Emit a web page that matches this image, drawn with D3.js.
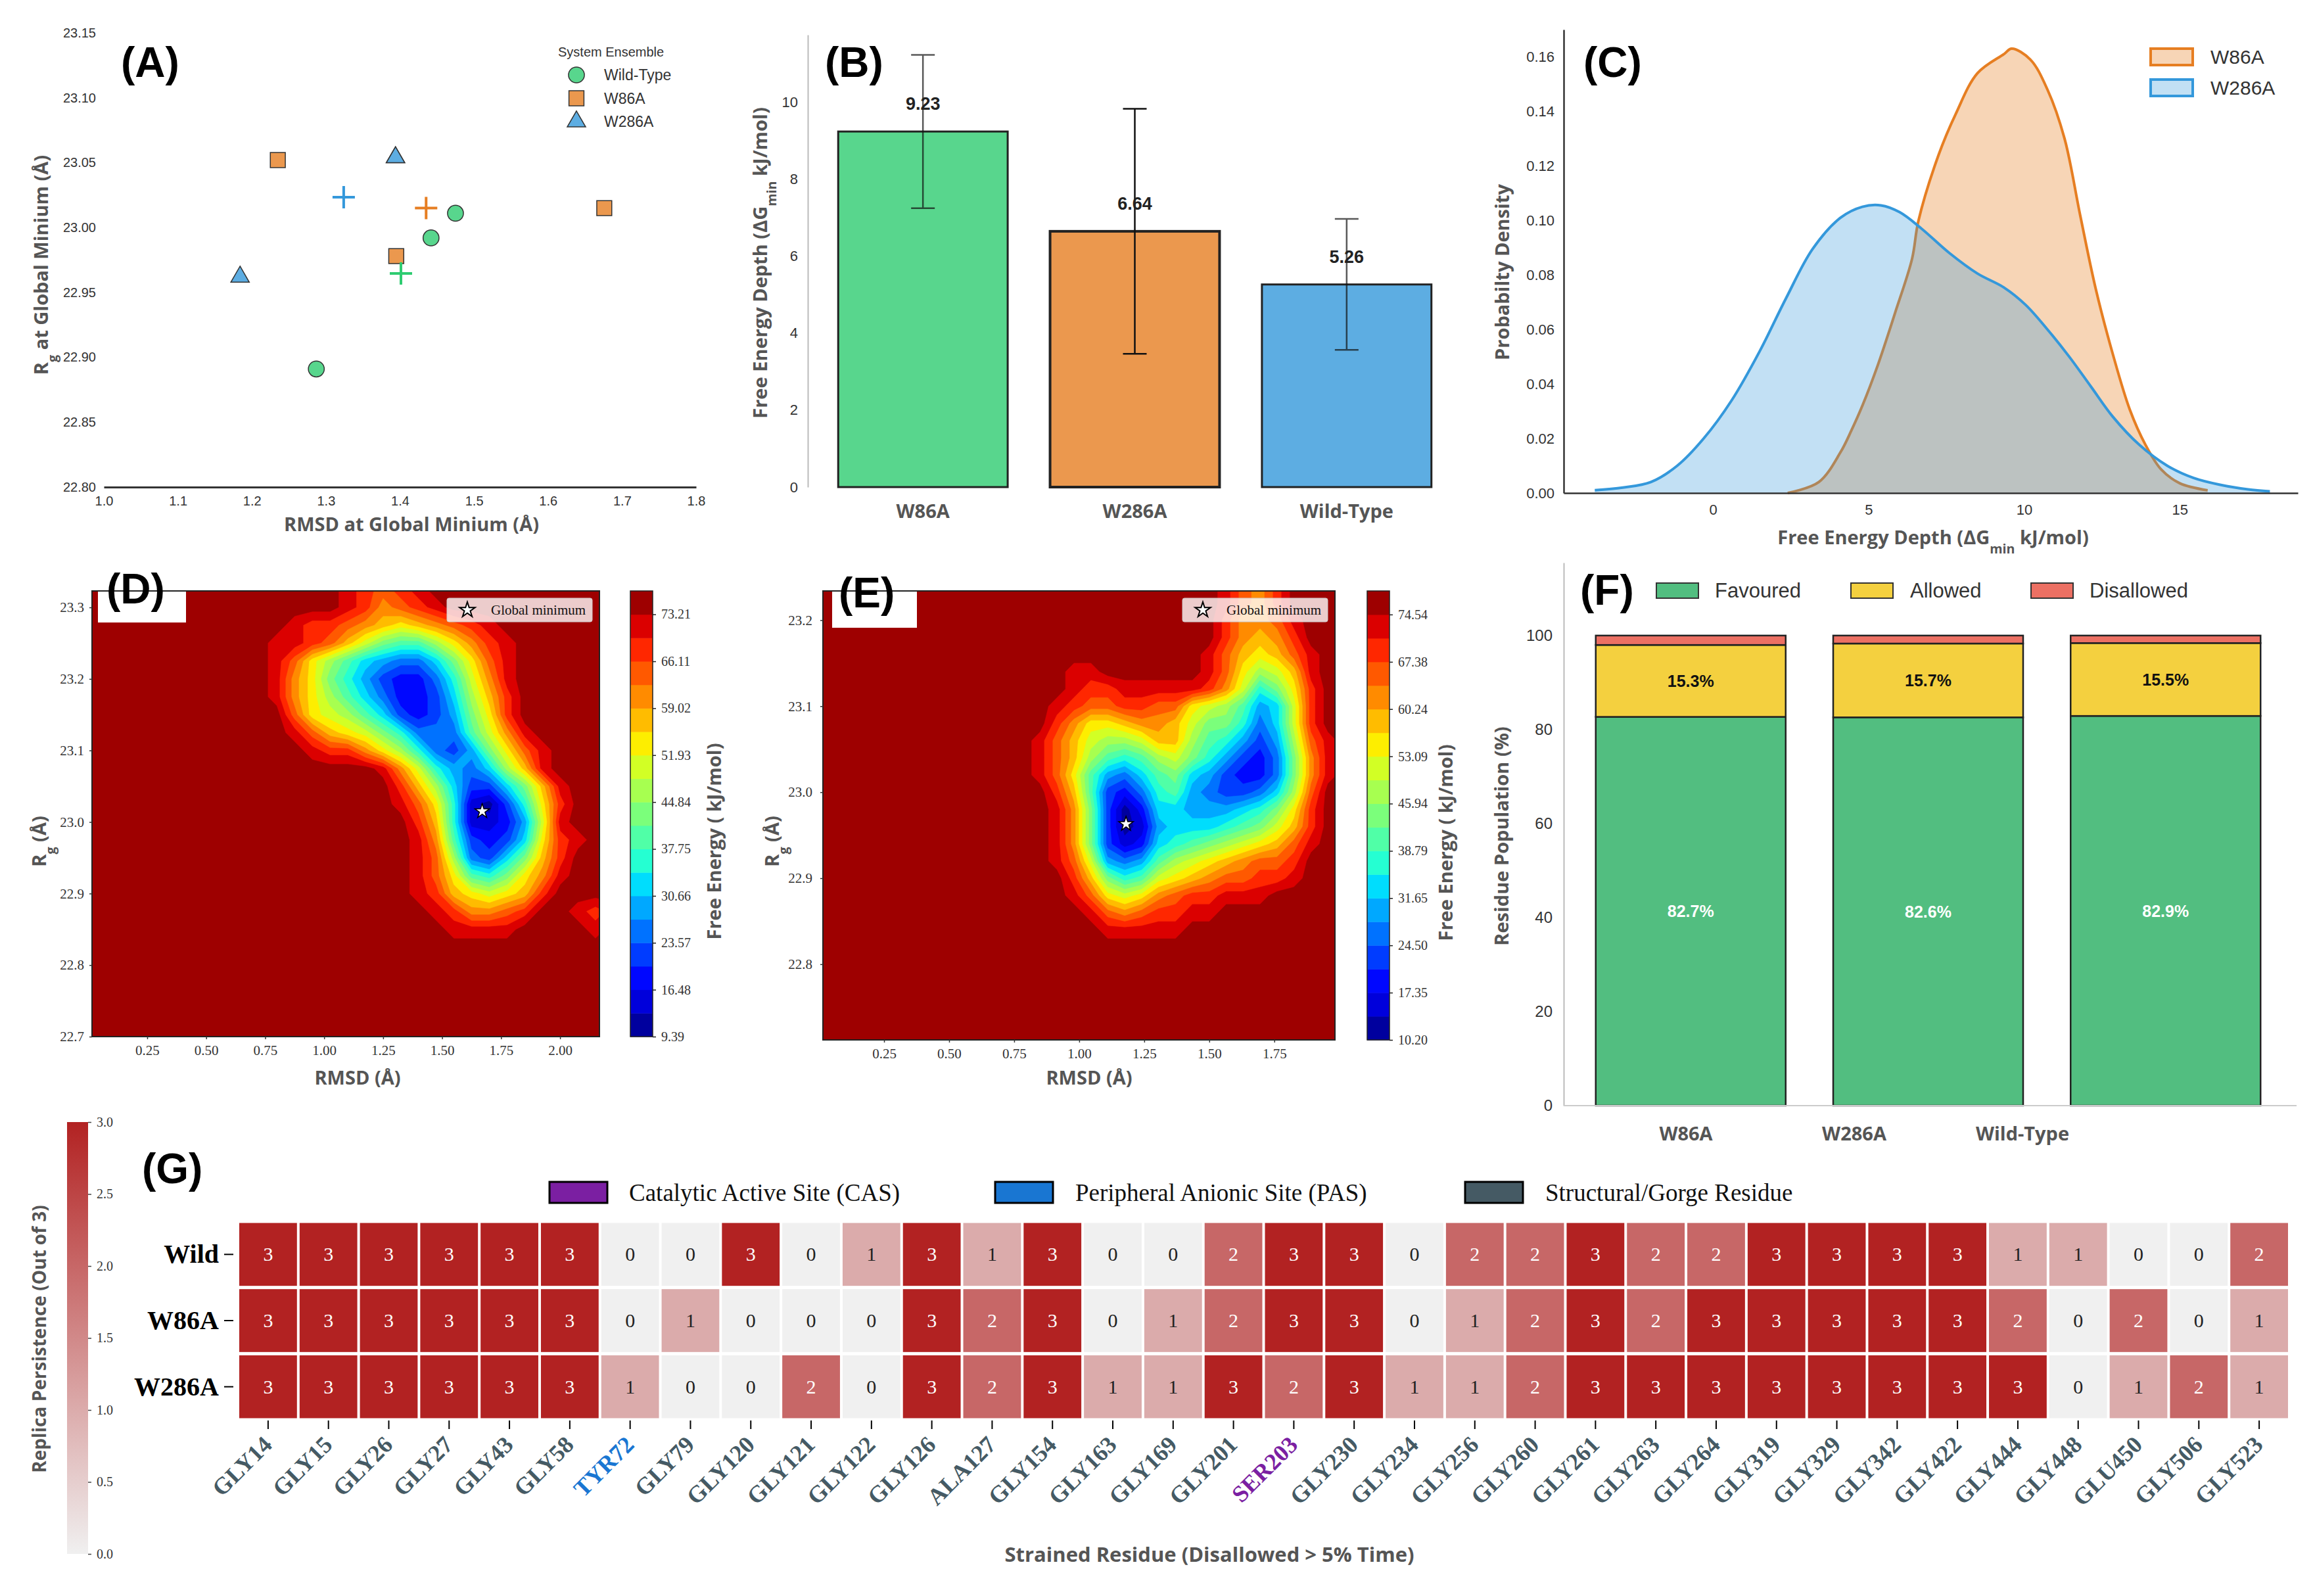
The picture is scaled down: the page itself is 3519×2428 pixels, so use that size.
<!DOCTYPE html>
<html>
<head>
<meta charset="utf-8">
<script src="https://cdn.jsdelivr.net/npm/d3@7"></script>
<style>
body{margin:0;background:#fff;}
svg{display:block;}
</style>
</head>
<body>
<div class="visHolder"></div>
<script>
const W=3519,H=2428;
const SANS="'Liberation Sans',Arial,sans-serif",
  TITLE="'Open Sans','DejaVu Sans',sans-serif",
  SERIF="'Liberation Serif','Times New Roman',serif",
  GREY="#555";

// ---------- (A) RMSD / Rg at global minimum ----------
const wildRmsd=[1.475,1.442,1.287], wildRg=[23.011,22.992,22.891];
const w86Rmsd=[1.235,1.395,1.676], w86Rg=[23.052,22.978,23.015];
const w286Rmsd=[1.394,1.394,1.184], w286Rg=[23.054,23.054,22.962];
const sysNames=["Wild-Type","W86A","W286A"];
const scatterXTicks=[1.0,1.1,1.2,1.3,1.4,1.5,1.6,1.7,1.8];
const scatterYTicks=[22.80,22.85,22.90,22.95,23.00,23.05,23.10,23.15];

// ---------- (B) free energy depth ----------
const depthCats=["W86A","W286A","Wild-Type"];
const depthVal=[9.23,6.64,5.26];
const depthErr=[1.99,3.18,1.70];
const depthTicks=[0,2,4,6,8,10];

// ---------- (C) density of depth ----------
const kdeW86x=[2.4,3.4,4.1,4.45,4.8,5.3,5.85,6.4,6.6,7.25,7.8,8.5,9.35,9.6,10.2,10.75,11.3,11.8,12.3,12.85,13.4,13.9,14.4,15.0,15.9];
const kdeW86y=[0.000,0.004,0.015,0.023,0.032,0.047,0.066,0.086,0.0997,0.124,0.139,0.154,0.161,0.163,0.159,0.148,0.130,0.102,0.075,0.051,0.0305,0.0177,0.0087,0.0036,0.001];
const kdeW286x=[-3.8,-2.9,-2.0,-1.15,-0.3,0.6,1.5,2.35,3.2,4.1,4.8,5.4,6.0,6.7,7.6,8.5,9.35,10.05,10.75,11.45,12.15,12.85,13.7,14.6,15.45,16.3,17.2,17.9];
const kdeW286y=[0.001,0.002,0.004,0.010,0.020,0.034,0.052,0.0715,0.0895,0.101,0.105,0.1055,0.103,0.097,0.088,0.0805,0.0754,0.069,0.060,0.050,0.039,0.028,0.0177,0.010,0.0055,0.003,0.0013,0.0006];
const densXTicks=[0,5,10,15];
const densYTicks=[0,0.02,0.04,0.06,0.08,0.10,0.12,0.14,0.16];

// ---------- (D),(E) free energy landscapes: band index (0 = lowest band) read per grid node ----------
const fesDGrid=[
[18,18,18,18,17,16,15,16,17,18,18,18,18,18,18,18,18,18,18,18],
[18,18,18,18,17,16,14,15,16,17,18,18,18,18,18,18,18,18,18,18],
[18,17,16,16,15,14,13,12,13,14,15,16,17,18,18,18,18,18,18,18],
[17,17,16,15,13,11,9,8,8,10,12,14,16,17,18,18,18,18,18,18],
[17,15,12,10,8,6,5,4,4,6,9,12,15,17,18,18,18,18,18,18],
[17,14,12,9,7,5,3,2,2,4,7,11,14,17,18,18,18,18,18,18],
[17,14,12,10,8,6,4,2,2,3,6,10,13,16,18,18,18,18,18,18],
[18,15,12,11,10,8,6,3,2,3,5,9,12,16,18,18,18,18,18,18],
[18,17,15,13,12,11,9,7,4,4,4,8,11,14,17,18,18,18,18,18],
[18,18,17,16,16,14,12,10,7,4,3,5,9,12,15,17,18,18,18,18],
[18,18,18,18,18,18,17,14,11,7,5,4,6,10,13,17,18,18,18,18],
[18,18,18,18,18,18,18,16,13,10,6,3,3,6,9,13,17,18,18,18],
[18,18,18,18,18,18,18,17,15,12,7,1,0,3,7,12,16,18,18,18],
[18,18,18,18,18,18,18,18,16,13,7,1,1,2,5,11,17,18,18,18],
[18,18,18,18,18,18,18,18,17,14,8,3,2,3,6,12,16,17,18,18],
[18,18,18,18,18,18,18,18,17,15,10,4,3,6,9,13,16,18,18,18],
[18,18,18,18,18,18,18,18,17,15,12,8,7,9,12,14,17,18,18,18],
[18,18,18,18,18,18,18,18,17,16,13,12,11,12,13,16,18,18,18,18],
[18,18,18,18,18,18,18,18,18,17,16,14,14,15,16,18,18,17,16,17],
[18,18,18,18,18,18,18,18,18,18,17,17,17,17,18,18,18,18,17,18],
[18,18,18,18,18,18,18,18,18,18,18,18,18,18,18,18,18,18,18,18],
[18,18,18,18,18,18,18,18,18,18,18,18,18,18,18,18,18,18,18,18]];
const fesEGrid=[
[18,18,18,18,18,18,18,18,18,18,18,18,18,17,15,14,16,18,18,18,18],
[18,18,18,18,18,18,18,18,18,18,18,18,18,17,15,14,16,18,18,18,18],
[18,18,18,18,18,18,18,18,18,18,18,18,18,16,14,14,15,17,18,18,18],
[18,18,18,18,18,18,18,18,18,18,18,18,18,16,14,13,14,16,18,18,18],
[18,18,18,18,18,18,18,18,18,18,18,18,17,15,13,12,13,15,17,18,18],
[18,18,18,18,17,17,18,18,18,18,18,18,17,15,12,10,11,13,17,18,18],
[18,18,18,18,17,16,16,17,17,17,17,17,16,14,11,7,9,12,16,18,18],
[18,18,18,17,16,15,15,16,16,15,15,12,11,10,8,5,6,11,16,18,18],
[18,18,18,16,14,12,12,13,14,14,13,11,9,9,7,4,6,11,16,18,18],
[18,18,17,15,13,11,10,10,11,13,13,10,8,7,5,3,5,10,15,17,18],
[18,18,17,15,13,10,8,7,8,10,11,9,7,5,3,2,4,9,14,17,18],
[18,18,17,15,12,8,5,4,6,8,9,6,5,3,2,2,4,9,14,17,18],
[18,18,18,16,13,8,3,2,4,7,8,5,4,3,3,4,6,10,15,18,18],
[18,18,18,17,14,9,3,0,2,6,6,5,5,5,6,7,9,12,16,18,18],
[18,18,18,17,14,9,3,0,1,5,6,6,6,7,8,9,11,13,16,18,18],
[18,18,18,17,14,9,3,1,2,6,7,8,9,10,11,12,13,15,17,18,18],
[18,18,18,17,15,11,5,4,5,8,10,11,12,13,14,15,15,16,18,18,18],
[18,18,18,18,16,13,9,7,8,11,12,13,14,15,15,16,16,17,18,18,18],
[18,18,18,18,17,15,12,11,12,14,15,16,16,17,17,17,18,18,18,18,18],
[18,18,18,18,18,17,15,14,15,16,16,17,17,18,18,18,18,18,18,18,18],
[18,18,18,18,18,18,17,17,17,17,17,18,18,18,18,18,18,18,18,18,18],
[18,18,18,18,18,18,18,18,18,18,18,18,18,18,18,18,18,18,18,18,18],
[18,18,18,18,18,18,18,18,18,18,18,18,18,18,18,18,18,18,18,18,18]];
const fesDTicks=["9.39","16.48","23.57","30.66","37.75","44.84","51.93","59.02","66.11","73.21"];
const fesETicks=["10.20","17.35","24.50","31.65","38.79","45.94","53.09","60.24","67.38","74.54"];
const fesDMin=[1.67,23.015], fesEMin=[1.18,22.963];
const fesDX=[0.25,0.50,0.75,1.00,1.25,1.50,1.75,2.00], fesDY=[22.7,22.8,22.9,23.0,23.1,23.2,23.3];
const fesEX=[0.25,0.50,0.75,1.00,1.25,1.50,1.75], fesEY=[22.8,22.9,23.0,23.1,23.2];

// ---------- (F) Ramachandran populations ----------
const ramaCats=["W86A","W286A","Wild-Type"];
const ramaFav=[82.7,82.6,82.9], ramaAllow=[15.3,15.7,15.5], ramaDis=[2.0,1.7,1.6];
const ramaTicks=[0,20,40,60,80,100];

// ---------- (G) strained residues ----------
const residues=["GLY14","GLY15","GLY26","GLY27","GLY43","GLY58","TYR72","GLY79","GLY120","GLY121","GLY122","GLY126","ALA127","GLY154","GLY163","GLY169","GLY201","SER203","GLY230","GLY234","GLY256","GLY260","GLY261","GLY263","GLY264","GLY319","GLY329","GLY342","GLY422","GLY444","GLY448","GLU450","GLY506","GLY523"];
const persistRows=["Wild","W86A","W286A"];
const wildPersist=[3,3,3,3,3,3,0,0,3,0,1,3,1,3,0,0,2,3,3,0,2,2,3,2,2,3,3,3,3,1,1,0,0,2];
const w86Persist=[3,3,3,3,3,3,0,1,0,0,0,3,2,3,0,1,2,3,3,0,1,2,3,2,3,3,3,3,3,2,0,2,0,1];
const w286Persist=[3,3,3,3,3,3,1,0,0,2,0,3,2,3,1,1,3,2,3,1,1,2,3,3,3,3,3,3,3,3,0,1,2,1];
const pasResidues=["TYR72"], casResidues=["SER203"];
const persistTicks=[0,0.5,1,1.5,2,2.5,3];

// ================= drawing =================
const svg=d3.select(".visHolder").append("svg").attr("width",W).attr("height",H);
svg.append("rect").attr("width",W).attr("height",H).attr("fill","#fff");
const defs=svg.append("defs");

function letter(x,y,s){
  svg.append("text").attr("x",x).attr("y",y).attr("font-family",SANS).attr("font-weight","bold")
    .attr("font-size",64).attr("fill","#000").text(s);
}
function title(x,y,parts,rot,size,font,color){
  const t=svg.append("text").attr("transform","translate("+x+","+y+")"+(rot?" rotate(-90)":""))
    .attr("text-anchor","middle").attr("font-family",font||TITLE).attr("font-weight","bold")
    .attr("font-size",size||29).attr("fill",color||GREY);
  parts.forEach(p=>{
    const s=t.append("tspan").text(p.replace(/^_/,""));
    if(p[0]=="_") s.attr("baseline-shift","sub").attr("font-size","68%");
  });
}
function sty(g,font,size,fill,line,lw){
  g.attr("font-family",font).attr("font-size",size);
  g.selectAll("text").attr("fill",fill);
  g.select(".domain").attr("stroke",line).attr("stroke-width",lw);
  g.selectAll(".tick line").attr("stroke",line).attr("stroke-width",1.5);
}

// ---------- A ----------
const xA=d3.scaleLinear().domain([1.0,1.8]).range([158,1059]);
const yA=d3.scaleLinear().domain([22.80,23.15]).range([741,50]);
const gA=svg.append("g");
const axAx=gA.append("g").attr("transform","translate(0,741)")
  .call(d3.axisBottom(xA).tickValues(scatterXTicks).tickFormat(d3.format(".1f")).tickSize(0).tickSizeOuter(0).tickPadding(14));
sty(axAx,SANS,20,"#333","#333",3);
const axAy=gA.append("g").attr("transform","translate(158,0)")
  .call(d3.axisLeft(yA).tickValues(scatterYTicks).tickFormat(d3.format(".2f")).tickSize(0).tickPadding(12));
sty(axAy,SANS,20,"#333","#333",0);
axAy.select(".domain").remove();

const sysFill=["#58D68D","#EB984E","#5DADE2"], sysMean=["#2ECC71","#E67E22","#3498DB"];
const sysShape=[d3.symbolCircle,d3.symbolSquare,d3.symbolTriangle], sysSize=[460,520,340];
const sysPts=[[wildRmsd,wildRg],[w86Rmsd,w86Rg],[w286Rmsd,w286Rg]];
sysPts.forEach((p,i)=>{
  gA.selectAll(null).data(d3.zip(p[0],p[1])).join("path")
    .attr("transform",d=>"translate("+xA(d[0])+","+yA(d[1])+")")
    .attr("d",d3.symbol(sysShape[i],sysSize[i])).attr("fill",sysFill[i]).attr("stroke","#333").attr("stroke-width",1.5);
});
sysPts.forEach((p,i)=>{
  const mx=xA(d3.mean(p[0])),my=yA(d3.mean(p[1]));
  gA.append("path").attr("d","M"+(mx-17)+","+my+"h34M"+mx+","+(my-17)+"v34")
    .attr("stroke",sysMean[i]).attr("stroke-width",4).attr("fill","none");
});
gA.append("text").attr("x",849).attr("y",86).attr("font-family",SANS).attr("font-size",20).attr("fill","#333").text("System Ensemble");
sysNames.forEach((n,i)=>{
  const yy=114+i*35.5;
  gA.append("path").attr("transform","translate(877,"+yy+")").attr("d",d3.symbol(sysShape[i],sysSize[i]))
    .attr("fill",sysFill[i]).attr("stroke","#333").attr("stroke-width",1.5);
  gA.append("text").attr("x",919).attr("y",yy+8).attr("font-family",SANS).attr("font-size",23).attr("fill","#333").text(n);
});
title(73,403,["R","_g"," at Global Minium (Å)"],true);
title(626,808,["RMSD at Global Minium (Å)"]);
letter(184,117,"(A)");

// ---------- B ----------
const xB=d3.scaleBand().domain(depthCats).range([1243,2210]).paddingInner(0.2).paddingOuter(0.1);
const yB=d3.scaleLinear().domain([0,11.74]).range([741,53]);
const gB=svg.append("g");
const axBy=gB.append("g").attr("transform","translate(1229,0)")
  .call(d3.axisLeft(yB).tickValues(depthTicks).tickSize(0).tickSizeOuter(0).tickPadding(15));
sty(axBy,SANS,22,"#333","#bbb",2);
const barCol=["#58D68D","#EB984E","#5DADE2"];
gB.selectAll("rect.bar").data(depthCats).join("rect").attr("class","bar")
  .attr("x",d=>xB(d)).attr("width",xB.bandwidth())
  .attr("y",(d,i)=>yB(depthVal[i])).attr("height",(d,i)=>yB(0)-yB(depthVal[i]))
  .attr("fill",(d,i)=>barCol[i]).attr("stroke","#222").attr("stroke-width",(d,i)=>i==1?4:3);
depthCats.forEach((c,i)=>{
  const cx=xB(c)+xB.bandwidth()/2, lo=yB(depthVal[i]-depthErr[i]), hi=yB(depthVal[i]+depthErr[i]);
  gB.append("path").attr("d","M"+cx+","+lo+"V"+hi+"M"+(cx-18)+","+hi+"h36M"+(cx-18)+","+lo+"h36")
    .attr("stroke","#111").attr("stroke-opacity",i==1?1:0.7).attr("stroke-width",2.5).attr("fill","none");
  gB.append("text").attr("x",cx).attr("y",yB(depthVal[i])-33).attr("text-anchor","middle")
    .attr("font-family",SANS).attr("font-weight","bold").attr("font-size",27).attr("fill","#222").text(depthVal[i].toFixed(2));
});
const axBx=gB.append("g").attr("transform","translate(0,741)")
  .call(d3.axisBottom(xB).tickSize(0).tickPadding(26));
axBx.select(".domain").remove();
sty(axBx,TITLE,29,GREY,"none",0);
axBx.selectAll("text").attr("font-weight","bold");
title(1167,400,["Free Energy Depth (ΔG","_min"," kJ/mol)"],true);
letter(1255,117,"(B)");

// ---------- C ----------
const xC=d3.scaleLinear().domain([-4.8,18.8]).range([2379,3496]);
const yC=d3.scaleLinear().domain([0,0.17]).range([750,45]);
const gC=svg.append("g");
const areaC=d3.area().x(d=>xC(d[0])).y0(yC(0)).y1(d=>yC(d[1])).curve(d3.curveCatmullRom.alpha(0.5));
const lineC=d3.line().x(d=>xC(d[0])).y(d=>yC(d[1])).curve(d3.curveCatmullRom.alpha(0.5));
const w86pts=d3.zip(kdeW86x,kdeW86y), w286pts=d3.zip(kdeW286x,kdeW286y);
gC.append("path").attr("d",areaC(w86pts)).attr("fill","#E67E22").attr("fill-opacity",0.33);
gC.append("path").attr("d",lineC(w86pts)).attr("fill","none").attr("stroke","#E67E22").attr("stroke-width",4);
gC.append("path").attr("d",areaC(w286pts)).attr("fill","#3498DB").attr("fill-opacity",0.3);
gC.append("path").attr("d",lineC(w286pts)).attr("fill","none").attr("stroke","#3498DB").attr("stroke-width",4);
const axCx=gC.append("g").attr("transform","translate(0,750)")
  .call(d3.axisBottom(xC).tickValues(densXTicks).tickSize(0).tickSizeOuter(0).tickPadding(17));
sty(axCx,SANS,22,"#333","#333",2.5);
const axCy=gC.append("g").attr("transform","translate(2379,0)")
  .call(d3.axisLeft(yC).tickValues(densYTicks).tickFormat(d3.format(".2f")).tickSize(0).tickSizeOuter(0).tickPadding(14));
sty(axCy,SANS,22,"#333","#333",2.5);
[["W86A","#E67E22",0.33],["W286A","#3498DB",0.3]].forEach((l,i)=>{
  const yy=74+i*47;
  gC.append("rect").attr("x",3272).attr("y",yy).attr("width",64).attr("height",25)
    .attr("fill",l[1]).attr("fill-opacity",l[2]).attr("stroke",l[1]).attr("stroke-width",4);
  gC.append("text").attr("x",3363).attr("y",yy+23).attr("font-family",SANS).attr("font-size",30).attr("fill","#333").text(l[0]);
});
title(2296,414,["Probabilty Density"],true);
title(2941,828,["Free Energy Depth (ΔG","_min"," kJ/mol)"]);
letter(2409,117,"(C)");

// ---------- D / E ----------
function jet(t){
  const r=d3.scaleLinear().domain([0,0.35,0.66,0.89,1]).range([0,0,1,1,0.5]).clamp(true)(t);
  const g=d3.scaleLinear().domain([0,0.125,0.375,0.64,0.91,1]).range([0,0,1,1,0,0]).clamp(true)(t);
  const b=d3.scaleLinear().domain([0,0.11,0.34,0.65,1]).range([0.5,1,1,0,0]).clamp(true)(t);
  return d3.rgb(r*255,g*255,b*255).formatHex();
}
const NB=19;
const bandCol=j=>jet((j+0.5)/NB);

function fes(p){
  const x=d3.scaleLinear().domain(p.xd).range([p.x0,p.x1]);
  const y=d3.scaleLinear().domain(p.yd).range([p.y1,p.y0]);
  const g=svg.append("g");
  defs.append("clipPath").attr("id","clip"+p.id).append("rect")
    .attr("x",p.x0).attr("y",p.y0).attr("width",p.x1-p.x0).attr("height",p.y1-p.y0);
  const m=g.append("g").attr("clip-path","url(#clip"+p.id+")");
  m.append("rect").attr("x",p.x0).attr("y",p.y0).attr("width",p.x1-p.x0).attr("height",p.y1-p.y0).attr("fill",bandCol(NB-1));
  const ny=p.grid.length,nx=p.grid[0].length,vals=[];
  p.grid.forEach(row=>row.forEach(L=>vals.push(NB-1-L)));
  const cs=d3.contours().size([nx,ny]).thresholds(d3.range(NB-1).map(k=>k+0.5))(vals);
  const proj=d3.geoTransform({point:function(gx,gy){
    this.stream.point(x(p.gx0+(gx-0.5)*p.gdx),y(p.gy0-(gy-0.5)*p.gdy));}});
  m.selectAll("path").data(cs).join("path").attr("d",d3.geoPath(proj))
    .attr("fill",d=>bandCol(Math.round(NB-1.5-d.value))).attr("stroke",d=>bandCol(Math.round(NB-1.5-d.value))).attr("stroke-width",0.6);
  g.append("rect").attr("x",p.x0).attr("y",p.y0).attr("width",p.x1-p.x0).attr("height",p.y1-p.y0)
    .attr("fill","none").attr("stroke","#222").attr("stroke-width",2);
  const ax=g.append("g").attr("transform","translate(0,"+p.y1+")")
    .call(d3.axisBottom(x).tickValues(p.xt).tickFormat(d3.format(".2f")).tickSize(4).tickSizeOuter(0).tickPadding(9));
  sty(ax,SERIF,21,"#333","#333",0);
  const ay=g.append("g").attr("transform","translate("+p.x0+",0)")
    .call(d3.axisLeft(y).tickValues(p.yt).tickFormat(d3.format(".1f")).tickSize(4).tickSizeOuter(0).tickPadding(p.ypad));
  sty(ay,SERIF,21,"#333","#333",0);
  // global minimum star
  g.append("path").attr("transform","translate("+x(p.min[0])+","+y(p.min[1])+")")
    .attr("d",d3.symbol(d3.symbolStar,150)).attr("fill","#fff").attr("stroke","#000").attr("stroke-width",1.5);
  // legend box
  g.append("rect").attr("x",p.lx).attr("y",910).attr("width",221).attr("height",36).attr("rx",3)
    .attr("fill","#fff").attr("fill-opacity",0.8).attr("stroke","#ccc");
  g.append("path").attr("transform","translate("+(p.lx+31)+",928)").attr("d",d3.symbol(d3.symbolStar,170))
    .attr("fill","#fff").attr("stroke","#000").attr("stroke-width",2);
  g.append("text").attr("x",p.lx+67).attr("y",935).attr("font-family",SERIF).attr("font-size",21).attr("fill","#111").text("Global minimum");
  // letter box
  g.append("rect").attr("x",p.bx).attr("y",p.y0+1).attr("width",p.bw).attr("height",p.bh).attr("fill","#fff");
  // colorbar
  const cb=d3.scaleLinear().domain([p.vmin,p.vmin+NB*p.step]).range([p.y1,p.y0]);
  g.selectAll("rect.cb").data(d3.range(NB)).join("rect").attr("class","cb")
    .attr("x",p.cx).attr("width",34).attr("y",j=>cb(p.vmin+(j+1)*p.step)).attr("height",j=>cb(p.vmin+j*p.step)-cb(p.vmin+(j+1)*p.step)+0.5)
    .attr("fill",j=>bandCol(j));
  g.append("rect").attr("x",p.cx).attr("y",p.y0).attr("width",34).attr("height",p.y1-p.y0).attr("fill","none").attr("stroke","#222").attr("stroke-width",1.5);
  const ac=g.append("g").attr("transform","translate("+(p.cx+34)+",0)")
    .call(d3.axisRight(cb).tickValues(p.ticks.map(Number)).tickFormat((d,i)=>p.ticks[i]).tickSize(5).tickPadding(8));
  ac.select(".domain").remove();
  sty(ac,SERIF,20,"#333","#222",0);
}
fes({id:"D",grid:fesDGrid,gx0:0.80,gdx:0.075,gy0:23.325,gdy:0.025,
  xd:[0.016,2.167],yd:[22.7,23.323],x0:140,x1:912,y0:899,y1:1577,xt:fesDX,yt:fesDY,ypad:8,
  min:fesDMin,lx:680,bx:149,bw:134,bh:47,cx:959,vmin:9.39,step:3.545,ticks:fesDTicks});
fes({id:"E",grid:fesEGrid,gx0:0.72,gdx:0.065,gy0:23.24,gdy:0.02,
  xd:[0.015,1.983],yd:[22.712,23.234],x0:1252,x1:2031,y0:899,y1:1582,xt:fesEX,yt:fesEY,ypad:12,
  min:fesEMin,lx:1799,bx:1266,bw:129,bh:55,cx:2080,vmin:10.20,step:3.574,ticks:fesETicks});
letter(162,918,"(D)");
letter(1276,924,"(E)");
title(70,1280,["R","_g"," (Å)"],true);
title(544,1650,["RMSD (Å)"]);
title(1097,1280,["Free Energy ( kJ/mol)"],true);
title(1185,1280,["R","_g"," (Å)"],true);
title(1657,1650,["RMSD (Å)"]);
title(2210,1282,["Free Energy ( kJ/mol)"],true);

// ---------- F ----------
const xF=d3.scaleBand().domain(ramaCats).range([2379,3488]).paddingInner(0.2).paddingOuter(0.135);
const yF=d3.scaleLinear().domain([0,115.5]).range([1682,856]);
const gF=svg.append("g");
const ramaKeys=["Favoured","Allowed","Disallowed"], ramaCol=["#52BE80","#F4D03F","#EC7063"];
const ramaRows=ramaCats.map((c,i)=>({cat:c,Favoured:ramaFav[i],Allowed:ramaAllow[i],Disallowed:ramaDis[i]}));
const stackF=d3.stack().keys(ramaKeys)(ramaRows);
stackF.forEach((s,k)=>{
  gF.selectAll(null).data(s).join("rect")
    .attr("x",d=>xF(d.data.cat)).attr("width",xF.bandwidth())
    .attr("y",d=>yF(d[1])).attr("height",d=>yF(d[0])-yF(d[1]))
    .attr("fill",ramaCol[k]).attr("stroke","#222").attr("stroke-width",2.5);
  if(k<2) gF.selectAll(null).data(s).join("text")
    .attr("x",d=>xF(d.data.cat)+xF.bandwidth()/2).attr("y",d=>(yF(d[0])+yF(d[1]))/2+9)
    .attr("text-anchor","middle").attr("font-family",SANS).attr("font-weight","bold").attr("font-size",25)
    .attr("fill",k==0?"#fff":"#111").text(d=>(d[1]-d[0]).toFixed(1)+"%");
});
const axFy=gF.append("g").attr("transform","translate(2379,0)")
  .call(d3.axisLeft(yF).tickValues(ramaTicks).tickSize(0).tickSizeOuter(0).tickPadding(17));
sty(axFy,SANS,24,"#333","#bbb",2);
gF.append("line").attr("x1",2379).attr("x2",3494).attr("y1",1682).attr("y2",1682).attr("stroke","#ccc").attr("stroke-width",2);
const xFl=d3.scalePoint().domain(ramaCats).range([2565,3077]);
gF.selectAll("text.cat").data(ramaCats).join("text").attr("class","cat")
  .attr("x",d=>xFl(d)).attr("y",1735).attr("text-anchor","middle")
  .attr("font-family",TITLE).attr("font-weight","bold").attr("font-size",29).attr("fill",GREY).text(d=>d);
[[2520,2609],[2816,2906],[3090,3179]].forEach((p,k)=>{
  gF.append("rect").attr("x",p[0]).attr("y",887).attr("width",64).attr("height",23).attr("fill",ramaCol[k]).attr("stroke","#333").attr("stroke-width",2);
  gF.append("text").attr("x",p[1]).attr("y",909).attr("font-family",SANS).attr("font-size",31).attr("fill","#333").text(ramaKeys[k]);
});
title(2295,1272,["Residue Population (%)"],true);
letter(2404,920,"(F)");

// ---------- G ----------
const xG=d3.scaleBand().domain(residues).range([362,3483]);
const yG=d3.scaleBand().domain(persistRows).range([1858,2160]);
const cG=d3.scaleLinear().domain([0,3]).range(["#F0F0F0","#B22222"]);
const gG=svg.append("g");
[wildPersist,w86Persist,w286Persist].forEach((vals,r)=>{
  const row=persistRows[r];
  gG.selectAll(null).data(vals).join("rect")
    .attr("x",(d,i)=>xG(residues[i])+2).attr("width",xG.bandwidth()-4)
    .attr("y",yG(row)+2.5).attr("height",yG.bandwidth()-5).attr("fill",d=>cG(d));
  gG.selectAll(null).data(vals).join("text")
    .attr("x",(d,i)=>xG(residues[i])+xG.bandwidth()/2).attr("y",yG(row)+yG.bandwidth()/2+10)
    .attr("text-anchor","middle").attr("font-family",SERIF).attr("font-size",30)
    .attr("fill",d=>d>=2?"#fff":"#222").text(d=>d);
  gG.append("text").attr("x",333).attr("y",yG(row)+yG.bandwidth()/2+13).attr("text-anchor","end")
    .attr("font-family",SERIF).attr("font-weight","bold").attr("font-size",40).attr("fill","#000").text(row);
  gG.append("line").attr("x1",341).attr("x2",355).attr("y1",yG(row)+yG.bandwidth()/2).attr("y2",yG(row)+yG.bandwidth()/2)
    .attr("stroke","#000").attr("stroke-width",2);
});
residues.forEach(r=>{
  const cx=xG(r)+xG.bandwidth()/2;
  gG.append("line").attr("x1",cx).attr("x2",cx).attr("y1",2161).attr("y2",2174).attr("stroke","#000").attr("stroke-width",2);
  const col=pasResidues.includes(r)?"#1976D2":casResidues.includes(r)?"#7B1FA2":"#455A64";
  gG.append("text").attr("transform","translate("+(cx+8)+",2200) rotate(-45)").attr("text-anchor","end")
    .attr("font-family",SERIF).attr("font-weight","bold").attr("font-size",36).attr("fill",col).text(r);
});
// legend
[["#7B1FA2",836,957,"Catalytic Active Site (CAS)"],["#1976D2",1514,1636,"Peripheral Anionic Site (PAS)"],["#455A64",2229,2351,"Structural/Gorge Residue"]].forEach(l=>{
  gG.append("rect").attr("x",l[1]).attr("y",1798).attr("width",88).attr("height",32).attr("fill",l[0]).attr("stroke","#000").attr("stroke-width",3);
  gG.append("text").attr("x",l[2]).attr("y",1827).attr("font-family",SERIF).attr("font-size",37).attr("fill","#111").text(l[3]);
});
// colorbar
const grad=defs.append("linearGradient").attr("id","gradG").attr("x1",0).attr("x2",0).attr("y1",1).attr("y2",0);
d3.range(0,1.01,0.25).forEach(t=>grad.append("stop").attr("offset",t).attr("stop-color",cG(t*3)));
const cbG=d3.scaleLinear().domain([0,3]).range([2364,1707]);
gG.append("rect").attr("x",102).attr("y",1707).attr("width",32).attr("height",657).attr("fill","url(#gradG)");
const acG=gG.append("g").attr("transform","translate(134,0)")
  .call(d3.axisRight(cbG).tickValues(persistTicks).tickFormat(d3.format(".1f")).tickSize(5).tickPadding(8));
acG.select(".domain").remove();
sty(acG,SERIF,20,"#333","#444",0);
title(70,2037,["Replica Persistence (Out of 3)"],true,28);
title(1840,2376,["Strained Residue (Disallowed > 5% Time)"],false,31);
letter(216,1800,"(G)");
</script>
</body>
</html>
